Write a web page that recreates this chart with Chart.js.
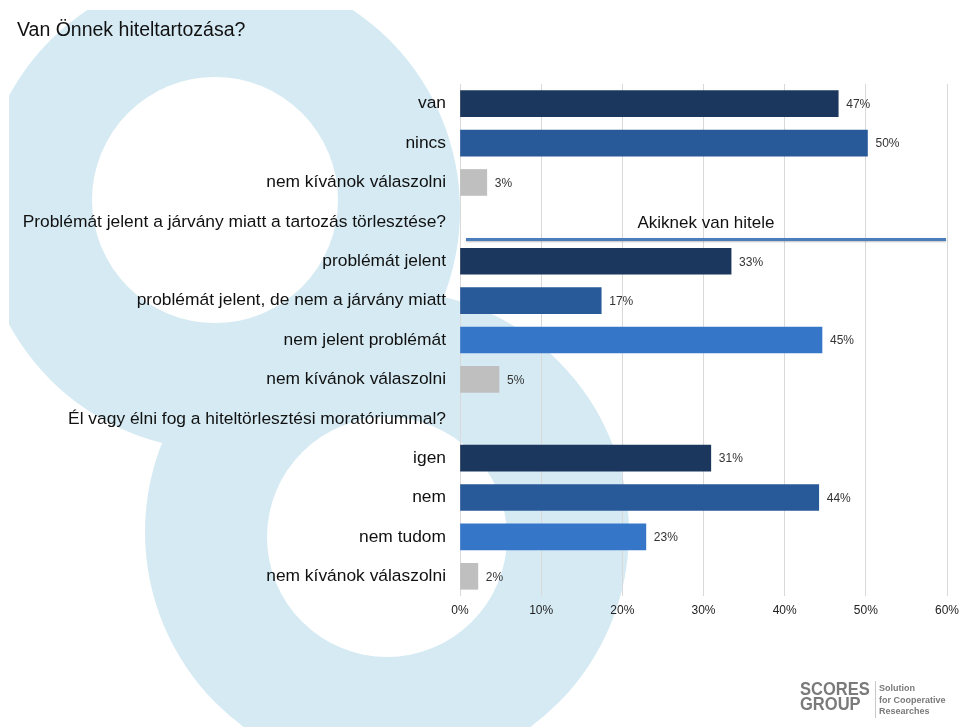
<!DOCTYPE html>
<html>
<head>
<meta charset="utf-8">
<script src="https://cdn.jsdelivr.net/npm/chart.js@4"></script>
<style>
  html, body { margin: 0; padding: 0; background: #fff; }
  body { width: 960px; height: 727px; position: relative; overflow: hidden; font-family: 'Liberation Sans', Arial, sans-serif; }
  #chart { position: absolute; left: 0; top: 0; }
  .title { position: absolute; left: 17px; top: 18px; font-size: 19.5px; color: #111; }
  .subhead { position: absolute; left: 466px; width: 480px; top: 213px; text-align: center; font-size: 17px; color: #111; }
  .subline { position: absolute; left: 466px; width: 480px; top: 238px; height: 3px; background: #4a7ebb; box-shadow: 0 1px 2px rgba(0,0,0,0.25); }
  .logo { position: absolute; left: 800px; top: 680px; color: #7a7a7a; }
  .logo .big { position: absolute; left: 0; top: 1px; font-weight: bold; font-size: 19px; line-height: 15px; transform: scaleX(0.87); transform-origin: 0 0; }
  .logo .bar { position: absolute; left: 75px; top: 1px; width: 1px; height: 37px; background: #c8c8c8; }
  .logo .small { position: absolute; left: 79px; top: 3px; font-weight: bold; font-size: 9px; line-height: 11.5px; white-space: nowrap; }
</style>
</head>
<body>
<canvas id="chart" width="960" height="727"></canvas>
<div class="title">Van Önnek hiteltartozása?</div>
<div class="subhead">Akiknek van hitele</div>
<div class="subline"></div>
<div class="logo">
  <div class="big">SCORES<br>GROUP</div>
  <div class="bar"></div>
  <div class="small">Solution<br>for Cooperative<br>Researches</div>
</div>
<script>
const categories = [
  'van',
  'nincs',
  'nem kívánok válaszolni',
  'Problémát jelent a járvány miatt a tartozás törlesztése?',
  'problémát jelent',
  'problémát jelent, de nem a járvány miatt',
  'nem jelent problémát',
  'nem kívánok válaszolni',
  'Él vagy élni fog a hiteltörlesztési moratóriummal?',
  'igen',
  'nem',
  'nem tudom',
  'nem kívánok válaszolni'
];
const values = [46.6, 50.2, 3.3, null, 33.4, 17.4, 44.6, 4.8, null, 30.9, 44.2, 22.9, 2.2];
const valueLabels = ['47%', '50%', '3%', '', '33%', '17%', '45%', '5%', '', '31%', '44%', '23%', '2%'];
const xTicks = [0, 10, 20, 30, 40, 50, 60];

const NAVY = '#1b375e', MID = '#285a9a', BRIGHT = '#3576c9', GREY = '#bfbfbf';
const barColors = [NAVY, MID, GREY, GREY, NAVY, MID, BRIGHT, GREY, GREY, NAVY, MID, BRIGHT, GREY];

const FONT = "'Liberation Sans', Arial, sans-serif";

// light blue rings behind the chart
const backdrop = {
  id: 'backdrop',
  beforeDraw(chart) {
    const c = chart.ctx;
    c.save();
    c.beginPath();
    c.rect(9, 10, 951, 717);
    c.clip();
    c.fillStyle = '#d5eaf3';
    c.beginPath(); c.arc(220, 210, 240, 0, Math.PI * 2); c.fill();
    c.fillStyle = '#fff';
    c.beginPath(); c.arc(215, 200, 123, 0, Math.PI * 2); c.fill();
    c.fillStyle = '#d5eaf3';
    c.beginPath(); c.arc(387, 532, 242, 0, Math.PI * 2); c.fill();
    c.fillStyle = '#fff';
    c.beginPath(); c.arc(387, 537, 120, 0, Math.PI * 2); c.fill();
    c.restore();
  }
};

const barValues = {
  id: 'barValues',
  afterDatasetsDraw(chart) {
    const c = chart.ctx;
    const meta = chart.getDatasetMeta(0);
    c.save();
    c.font = '12px ' + FONT;
    c.fillStyle = '#333';
    c.textBaseline = 'middle';
    c.textAlign = 'left';
    meta.data.forEach((bar, i) => {
      if (values[i] == null) return;
      c.fillText(valueLabels[i], bar.x + 8, bar.y + 1);
    });
    c.restore();
  }
};

new Chart(document.getElementById('chart'), {
  type: 'bar',
  data: {
    labels: categories,
    datasets: [{
      data: values,
      backgroundColor: barColors,
      barThickness: 26,
      borderWidth: 0
    }]
  },
  options: {
    indexAxis: 'y',
    responsive: false,
    animation: false,
    layout: { padding: { top: 84, right: 13, bottom: 101, left: 0 } },
    plugins: { legend: { display: false }, tooltip: { enabled: false } },
    scales: {
      x: {
        min: 0,
        max: 60,
        afterBuildTicks(scale) { scale.ticks = xTicks.map(v => ({ value: v })); },
        afterFit(scale) { scale.height = 30; scale.paddingLeft = 0; scale.paddingRight = 0; },
        grid: { color: '#d9d9d9', drawTicks: false },
        border: { display: false },
        ticks: {
          padding: 7,
          color: '#222',
          font: { family: FONT, size: 12 },
          callback: v => v + '%'
        }
      },
      y: {
        afterFit(scale) { scale.width = 460; },
        grid: { display: false, drawTicks: false },
        border: { display: false },
        ticks: {
          padding: 14,
          autoSkip: false,
          color: '#111',
          font: { family: FONT, size: 17.4 }
        }
      }
    }
  },
  plugins: [backdrop, barValues]
});
</script>
</body>
</html>
